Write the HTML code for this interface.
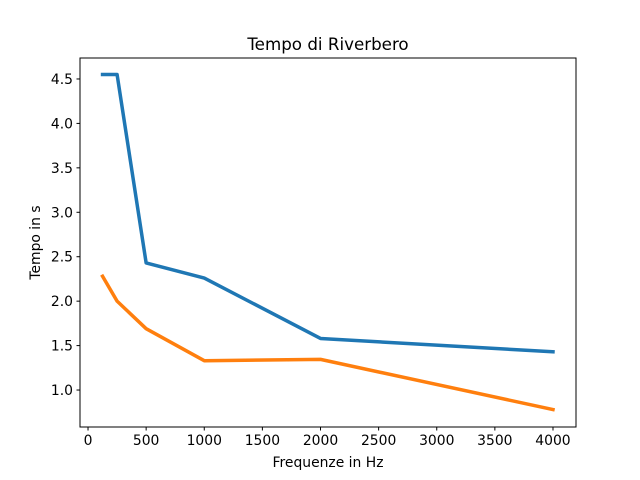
<!DOCTYPE html>
<html><head><meta charset="utf-8"><style>
body{margin:0;background:#fff;}
svg{display:block;font-family:"DejaVu Sans","Liberation Sans",sans-serif;}
</style></head><body>
<svg id="chart" width="640" height="480"></svg>
<script>
const freqs=[125,250,500,1000,2000,4000];
const seriesBlue=[4.55,4.55,2.43,2.26,1.58,1.43];
const seriesOrange=[2.28,2.0,1.69,1.33,1.345,0.78];
const xTicks=[0,500,1000,1500,2000,2500,3000,3500,4000];
const yTicks=[1.0,1.5,2.0,2.5,3.0,3.5,4.0,4.5];
const yTickLabels=["1.0","1.5","2.0","2.5","3.0","3.5","4.0","4.5"];

const L=80,R=576,T=58,B=427;
const xMin=-69,xMax=4198,yMin=0.584,yMax=4.736;
const sx=v=>L+(v-xMin)/(xMax-xMin)*(R-L);
const sy=v=>B-(v-yMin)/(yMax-yMin)*(B-T);
const svg=document.getElementById('chart');
const NS='http://www.w3.org/2000/svg';
function mk(tag,attrs,parent){const e=document.createElementNS(NS,tag);for(const k in attrs)e.setAttribute(k,attrs[k]);(parent||svg).appendChild(e);return e;}

function line(vals,color,name){
  const p=mk('polyline',{points:freqs.map((f,i)=>sx(f)+','+sy(vals[i])).join(' '),fill:'none',stroke:color,'stroke-width':3.5,'stroke-linejoin':'round','stroke-linecap':'square'});
  
  
}
line(seriesBlue,'#1f77b4','series-blue-line');
line(seriesOrange,'#ff7f0e','series-orange-line');

const frame=mk('rect',{x:L,y:T,width:R-L,height:B-T,fill:'none',stroke:'#000','stroke-width':1});



xTicks.forEach(v=>{
  const x=sx(v);
  const t=mk('line',{x1:x,x2:x,y1:B,y2:B+3.5,stroke:'#000'});
  
  
  const l=mk('text',{x:x,y:B+18,'font-size':13.9,'text-anchor':'middle'});
  l.textContent=v;
  
  
});
yTicks.forEach((v,i)=>{
  const y=sy(v);
  const t=mk('line',{x1:L-3.5,x2:L,y1:y,y2:y,stroke:'#000'});
  
  
  const l=mk('text',{x:L-7,y:y+5,'font-size':13.9,'text-anchor':'end'});
  l.textContent=yTickLabels[i];
  
  
});
const title=mk('text',{x:(L+R)/2,y:50,'font-size':16.7,'text-anchor':'middle'});
title.textContent='Tempo di Riverbero';


const xl=mk('text',{x:(L+R)/2,y:467,'font-size':13.9,'text-anchor':'middle'});
xl.textContent='Frequenze in Hz';


const yl=mk('text',{x:0,y:0,'font-size':13.9,'text-anchor':'middle',transform:'translate(40,'+((T+B)/2)+') rotate(-90)'});
yl.textContent='Tempo in s';


</script>
</body></html>
